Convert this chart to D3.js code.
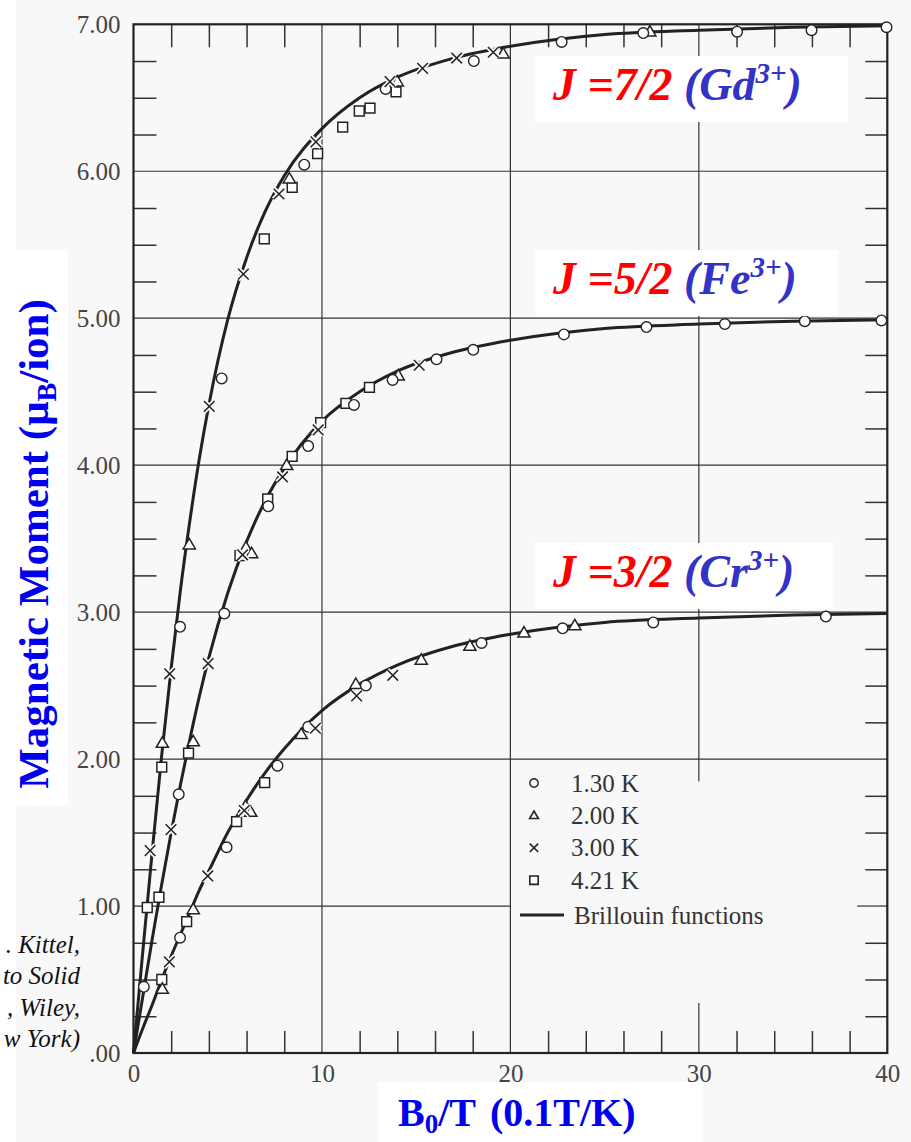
<!DOCTYPE html>
<html>
<head>
<meta charset="utf-8">
<script src="https://cdn.jsdelivr.net/npm/d3@7"></script>
<style>
body { margin: 0; background: #fff; }
text { font-family: "Liberation Serif", "Times New Roman", serif; }
</style>
</head>
<body>
<svg width="911" height="1142"></svg>
<script>
// Brillouin curves (B0/T in 0.1 T/K, moment in muB per ion)
var curveB = [0, 0.5, 1, 1.5, 2, 2.5, 3, 3.5, 4, 5, 6, 7, 8, 10, 12, 14, 17, 20, 25, 30, 35, 40];
var gdCurve = [0, 0.70, 1.38, 2.03, 2.62, 3.16, 3.63, 4.05, 4.41, 4.99, 5.41, 5.73, 5.97, 6.29, 6.50, 6.64, 6.77, 6.85, 6.93, 6.96, 6.98, 6.99];
var feCurve = [0, 0.39, 0.78, 1.15, 1.50, 1.83, 2.14, 2.43, 2.69, 3.13, 3.48, 3.76, 3.98, 4.30, 4.50, 4.64, 4.77, 4.85, 4.93, 4.96, 4.98, 4.99];
var crCurve = [0, 0.17, 0.33, 0.50, 0.66, 0.81, 0.96, 1.11, 1.24, 1.50, 1.72, 1.91, 2.07, 2.33, 2.51, 2.64, 2.77, 2.85, 2.93, 2.96, 2.98, 2.99];

// measured points [B0/T, moment], one list per temperature
var pts130 = [ // circles, 1.30 K
  [2.47, 2.90], [4.68, 4.59], [9.06, 6.045], [13.38, 6.56], [18.06, 6.75], [22.72, 6.88], [27.05, 6.94], [32.03, 6.95], [35.98, 6.96], [39.96, 6.98],
  [0.55, 0.45], [2.40, 1.76], [4.82, 2.99], [7.15, 3.72], [9.27, 4.13], [11.70, 4.41], [13.75, 4.58], [16.08, 4.72], [18.03, 4.785], [22.84, 4.89], [27.22, 4.94], [31.38, 4.96], [35.62, 4.98], [39.69, 4.985],
  [2.47, 0.785], [4.94, 1.40], [7.64, 1.955], [9.27, 2.22], [12.33, 2.50], [18.47, 2.79], [22.77, 2.89], [27.58, 2.93], [36.74, 2.97]
];
var pts200 = [ // triangles, 2.00 K
  [1.53, 2.11], [2.96, 3.46], [8.27, 5.95], [14.0, 6.61], [19.62, 6.80], [27.40, 6.95],
  [3.17, 2.12], [5.97, 3.44], [6.27, 3.40], [8.13, 4.00], [14.05, 4.61],
  [1.53, 0.436], [3.17, 0.978], [5.95, 1.68], [6.22, 1.64], [8.90, 2.17], [11.80, 2.51], [15.27, 2.675], [17.85, 2.77], [20.72, 2.86], [23.42, 2.91]
];
var pts300 = [ // crosses, 3.00 K
  [0.88, 1.377], [1.92, 2.58], [4.02, 4.40], [5.83, 5.30], [7.72, 5.845], [9.68, 6.20], [13.61, 6.61], [15.34, 6.70], [17.15, 6.77], [19.09, 6.81],
  [1.99, 1.52], [3.96, 2.65], [5.79, 3.39], [7.91, 3.92], [9.80, 4.24], [15.16, 4.68],
  [1.90, 0.62], [3.94, 1.205], [5.88, 1.65], [9.65, 2.21], [11.84, 2.43], [13.76, 2.57]
];
var pts421 = [ // squares, 4.21 K
  [0.73, 0.99], [1.50, 1.945], [6.94, 5.54], [8.42, 5.89], [9.77, 6.12], [11.10, 6.30], [11.98, 6.41], [12.55, 6.43], [13.93, 6.54],
  [1.35, 1.06], [2.92, 2.04], [5.65, 3.385], [7.12, 3.77], [8.42, 4.06], [9.93, 4.29], [11.27, 4.42], [12.52, 4.53],
  [1.50, 0.50], [2.82, 0.894], [5.47, 1.575], [6.96, 1.84]
];

var xTicks = [0, 10, 20, 30, 40];
var yTicks = [0, 1, 2, 3, 4, 5, 6, 7];
var yTickLabels = [".00", "1.00", "2.00", "3.00", "4.00", "5.00", "6.00", "7.00"];
var legendLabels = ["1.30 K", "2.00 K", "3.00 K", "4.21 K", "Brillouin functions"];
var ionLabels = [
  {j: "J =7/2 ", ion: "(Gd"},
  {j: "J =5/2 ", ion: "(Fe"},
  {j: "J =3/2 ", ion: "(Cr"}
];
// only the part of the source note that shows inside the page
var citeLines = [". Kittel,", "to Solid", ", Wiley,", "w York)"];

var svg = d3.select("svg");
var x = d3.scaleLinear().domain([0, 40]).range([133.5, 887.3]);
var y = d3.scaleLinear().domain([0, 7]).range([1053, 24.3]);
var ink = "#222";

// scanned page tint
svg.append("rect").attr("x", 16).attr("y", 0).attr("width", 895).attr("height", 1142).attr("fill", "#f8f8f8");

// grid lines
var grid = svg.append("g").attr("stroke", "#333").attr("stroke-width", 1.2);
grid.selectAll(".gy").data([1, 2, 3, 4, 5, 6]).enter().append("line")
  .attr("x1", x(0)).attr("x2", function(d) { return d === 1 ? x(20) : x(40); })
  .attr("y1", function(d) { return y(d); }).attr("y2", function(d) { return y(d); });
grid.selectAll(".gx").data([10, 20, 30]).enter().append("line")
  .attr("x1", function(d) { return x(d); }).attr("x2", function(d) { return x(d); })
  .attr("y1", y(7)).attr("y2", function(d) { return d === 30 ? y(1.85) : y(0); });
// longer ticks where the legend interrupts the grid
grid.append("line").attr("x1", x(30)).attr("x2", x(30)).attr("y1", y(0)).attr("y2", y(0.34));
grid.append("line").attr("x1", x(38.4)).attr("x2", x(40)).attr("y1", y(1)).attr("y2", y(1));

// inside minor ticks
var xMinor = d3.range(2, 40, 2).filter(function(d) { return d % 10 !== 0; });
var yMinor = d3.range(0.25, 7, 0.25).filter(function(d) { return d % 1 !== 0; });
function tickStyle(sel) {
  sel.select(".domain").remove();
  sel.selectAll("line").attr("stroke", "#333").attr("stroke-width", 1.5);
}
svg.append("g").attr("transform", "translate(0," + y(0) + ")")
  .call(d3.axisBottom(x).tickValues(xMinor).tickSizeInner(-22).tickSizeOuter(0).tickFormat(""))
  .call(tickStyle);
svg.append("g").attr("transform", "translate(0," + y(7) + ")")
  .call(d3.axisTop(x).tickValues(xMinor).tickSizeInner(-23).tickSizeOuter(0).tickFormat(""))
  .call(tickStyle);
svg.append("g").attr("transform", "translate(" + x(0) + ",0)")
  .call(d3.axisLeft(y).tickValues(yMinor).tickSizeInner(-23).tickSizeOuter(0).tickFormat(""))
  .call(tickStyle);
svg.append("g").attr("transform", "translate(" + x(40) + ",0)")
  .call(d3.axisRight(y).tickValues(yMinor).tickSizeInner(-22).tickSizeOuter(0).tickFormat(""))
  .call(tickStyle);

// tick labels
function labelStyle(sel) {
  sel.select(".domain").remove();
  sel.selectAll("line").remove();
  sel.attr("font-family", null).attr("font-size", null);
  sel.selectAll("text").attr("font-size", 25).attr("fill", "#444");
}
svg.append("g").attr("transform", "translate(0," + y(0) + ")")
  .call(d3.axisBottom(x).tickValues(xTicks).tickSize(0).tickPadding(11))
  .call(labelStyle);
svg.append("g").attr("transform", "translate(" + x(0) + ",0)")
  .call(d3.axisLeft(y).tickValues(yTicks).tickSize(0).tickPadding(13)
    .tickFormat(function(d, i) { return yTickLabels[i]; }))
  .call(labelStyle);

// frame
svg.append("rect").attr("x", x(0)).attr("y", y(7))
  .attr("width", x(40) - x(0)).attr("height", y(0) - y(7))
  .attr("fill", "none").attr("stroke", ink).attr("stroke-width", 2.2);

// Brillouin curves
var line = d3.line().curve(d3.curveMonotoneX)
  .x(function(d) { return x(d[0]); }).y(function(d) { return y(d[1]); });
[gdCurve, feCurve, crCurve].forEach(function(s) {
  svg.append("path").datum(curveB.map(function(b, i) { return [b, s[i]]; }))
    .attr("d", line).attr("fill", "none").attr("stroke", ink).attr("stroke-width", 3);
});

// marker shapes
function shapePath(kind, s) {
  if (kind === "tri") return "M0," + (-s * 1.05) + "L" + (s * 1.05) + "," + (s * 0.75) + "L" + (-s * 1.05) + "," + (s * 0.75) + "Z";
  if (kind === "sq") return "M" + (-s) + "," + (-s) + "H" + s + "V" + s + "H" + (-s) + "Z";
  if (kind === "x") return "M" + (-s) + "," + (-s) + "L" + s + "," + s + "M" + (-s) + "," + s + "L" + s + "," + (-s);
  return "";
}
function drawMarkers(data, kind) {
  var gm = svg.append("g");
  if (kind === "o") {
    gm.selectAll("circle").data(data).enter().append("circle")
      .attr("cx", function(d) { return x(d[0]); }).attr("cy", function(d) { return y(d[1]); })
      .attr("r", 5.3).attr("fill", "#fff").attr("stroke", ink).attr("stroke-width", 1.4);
    return;
  }
  if (kind === "x") {
    gm.selectAll(".halo").data(data).enter().append("path")
      .attr("transform", function(d) { return "translate(" + x(d[0]) + "," + y(d[1]) + ")"; })
      .attr("d", shapePath("x", 5.3)).attr("stroke", "#f8f8f8").attr("stroke-width", 5).attr("fill", "none");
  }
  gm.selectAll(".mk").data(data).enter().append("path")
    .attr("transform", function(d) { return "translate(" + x(d[0]) + "," + y(d[1]) + ")"; })
    .attr("d", shapePath(kind, kind === "tri" ? 5.8 : (kind === "sq" ? 4.9 : 5.3)))
    .attr("fill", kind === "x" ? "none" : "#fff")
    .attr("stroke", ink).attr("stroke-width", 1.5);
}
drawMarkers(pts421, "sq");
drawMarkers(pts200, "tri");
drawMarkers(pts130, "o");
drawMarkers(pts300, "x");

// legend
var legend = svg.append("g").attr("transform", "translate(534,783)");
var kinds = ["o", "tri", "x", "sq"];
legendLabels.forEach(function(t, i) {
  var row = legend.append("g").attr("transform", "translate(0," + (i < 4 ? i * 32.4 : 132) + ")");
  if (i < 4) {
    if (kinds[i] === "o") {
      row.append("circle").attr("r", 4.2).attr("fill", "none").attr("stroke", ink).attr("stroke-width", 1.4);
    } else {
      row.append("path").attr("d", shapePath(kinds[i], 4.2)).attr("fill", "none")
        .attr("stroke", ink).attr("stroke-width", 1.6);
    }
    row.append("text").attr("x", 37).attr("y", 8.5).attr("font-size", 25).attr("fill", "#333").text(t);
  } else {
    row.append("line").attr("x1", -14).attr("x2", 30).attr("stroke", ink).attr("stroke-width", 3);
    row.append("text").attr("x", 40).attr("y", 8.5).attr("font-size", 25).attr("fill", "#333").text(t);
  }
});

// ion labels in white boxes
var boxTop = [56, 250, 543];
var boxWidth = [313, 303, 298];
ionLabels.forEach(function(d, i) {
  var gl = svg.append("g");
  gl.append("rect").attr("x", 535).attr("y", boxTop[i]).attr("width", boxWidth[i])
    .attr("height", 66).attr("fill", "#fff");
  var t = gl.append("text").attr("x", 553).attr("y", boxTop[i] + 44)
    .attr("font-size", 46).attr("font-weight", "bold").attr("font-style", "italic");
  t.append("tspan").attr("fill", "#ff0000").text(d.j);
  t.append("tspan").attr("fill", "#3333c6").text(d.ion);
  t.append("tspan").attr("fill", "#3333c6").attr("font-size", 29).attr("dy", -17).text("3+");
  t.append("tspan").attr("fill", "#3333c6").attr("dy", 17).text(")");
});

// axis titles on white boxes
svg.append("rect").attr("x", 0).attr("y", 250).attr("width", 68).attr("height", 555).attr("fill", "#fff");
var yt = svg.append("text").attr("transform", "translate(48,544) rotate(-90)")
  .attr("text-anchor", "middle").attr("font-size", 43).attr("font-weight", "bold").attr("fill", "#0000ee");
yt.append("tspan").text("Magnetic Moment (\u03bc");
yt.append("tspan").attr("font-size", 28).attr("dy", 8).text("B");
yt.append("tspan").attr("dy", -8).text("/ion)");

svg.append("rect").attr("x", 378).attr("y", 1082).attr("width", 325).attr("height", 60).attr("fill", "#fff");
var xt = svg.append("text").attr("x", 398).attr("y", 1126)
  .attr("font-size", 40).attr("font-weight", "bold").attr("fill", "#0000ee");
xt.append("tspan").text("B");
xt.append("tspan").attr("font-size", 27).attr("dy", 7).text("0");
xt.append("tspan").attr("dy", -7).text("/T");
xt.append("tspan").attr("dx", 14).text("(0.1T/K)");

// source note
svg.append("g").selectAll("text").data(citeLines).enter().append("text")
  .attr("x", 80).attr("y", function(d, i) { return 953 + i * 31.4; })
  .attr("text-anchor", "end").attr("font-size", 25).attr("font-style", "italic").attr("fill", "#111")
  .text(function(d) { return d; });
</script>
</body>
</html>
